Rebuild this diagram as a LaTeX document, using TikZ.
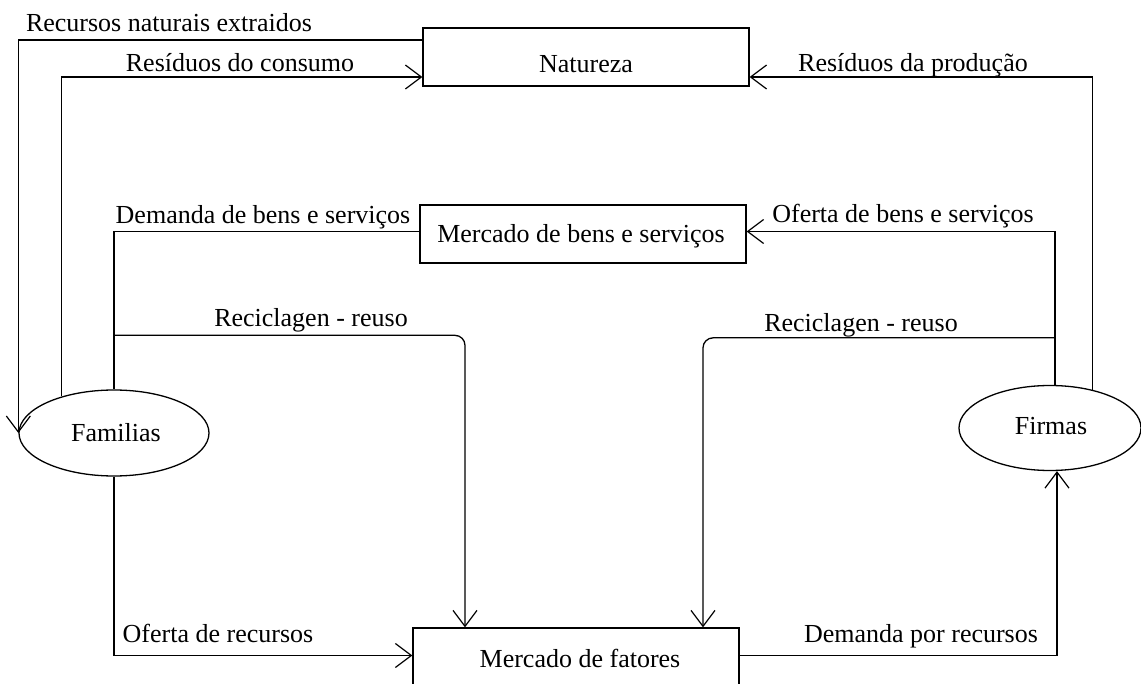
\documentclass[tikz,border=0pt]{standalone}
\usepackage{fontspec}
\setmainfont{Liberation Serif}
\usetikzlibrary{arrows.meta,shapes.geometric}
\begin{document}
\begin{tikzpicture}[x=1pt,y=-1pt,line width=1.3pt,
  txt/.style={font=\fontsize{26}{30}\selectfont},
  box/.style={draw,rectangle,minimum width=326pt,minimum height=58pt,inner sep=0pt,txt},
  oval/.style={draw,ellipse,inner sep=0pt,txt},
  lab/.style={anchor=base,inner sep=0pt,txt},
  arr/.style={-{Straight Barb[length=16pt,width=24pt,line width=1.2pt]}}]
\useasboundingbox (0,0) rectangle (1141,684);
\clip (0,0) rectangle (1141,684);
\fill[white] (0,0) rectangle (1141,684);
% nodes
\node[box] (nat) at (586,57) {};
\node[lab] at (586,73) {Natureza};
\node[box] (mbs) at (583,234) {};
\node[lab] at (581,243) {Mercado de bens e serviços};
\node[box] (mf) at (576,657) {};
\node[lab] at (580,667) {Mercado de fatores};
\node[oval,minimum width=190pt,minimum height=86pt] (fam) at (114,433) {};
\node[lab] at (116,442) {Familias};
\node[oval,minimum width=182pt,minimum height=85pt] (fir) at (1050,428) {};
\node[lab] at (1051,435) {Firmas};
% coordinates
\coordinate (rl) at ([yshift=54pt]fam.north);
\coordinate (rr) at ([xshift=5pt,yshift=47pt]fir.north);
% connectors
\draw[arr] ([yshift=17pt]nat.west) -| (fam.west);
\draw[arr] (fam.145) |- ([yshift=-20pt]nat.west);
\draw[arr] (fir.42) |- ([yshift=-20pt]nat.east);
\draw ([yshift=2.5pt]mbs.west) -| (fam.north);
\draw[arr] ([xshift=5pt]fir.north) |- ([yshift=2.5pt]mbs.east);
\draw[arr,rounded corners=10pt] (rl) -| ([xshift=-111pt]mf.north);
\draw[arr,rounded corners=10pt] (rr) -| ([xshift=127pt]mf.north);
\draw[arr] (fam.south) |- ([yshift=1.5pt]mf.west);
\draw[arr] ([yshift=1.5pt]mf.east) -| ([xshift=7pt]fir.south);
% labels
\node[lab] at (169,32) {Recursos naturais extraidos};
\node[lab] at (240,72) {Resíduos do consumo};
\node[lab] at (913,72) {Resíduos da produção};
\node[lab] at (263,224) {Demanda de bens e serviços};
\node[lab] at (903,223) {Oferta de bens e serviços};
\node[lab] at (311,327) {Reciclagen - reuso};
\node[lab] at (861,332) {Reciclagen - reuso};
\node[lab] at (218,642) {Oferta de recursos};
\node[lab] at (921,642) {Demanda por recursos};
\end{tikzpicture}
\end{document}
